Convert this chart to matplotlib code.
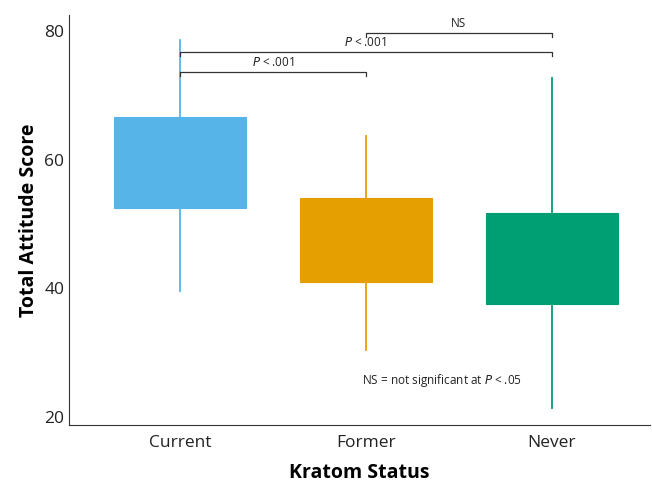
import matplotlib.pyplot as plt

plt.rcParams['font.family'] = ['Open Sans', 'DejaVu Sans']

groups = ['Current', 'Former', 'Never']
q1 = [52.5, 41.0, 37.5]
q3 = [66.6, 54.0, 51.7]
whislo = [39.6, 30.5, 21.4]
whishi = [78.6, 63.7, 72.7]
colors = ['#56B4E9', '#E69F00', '#009E73']

# brackets: (from group, to group, height, label)
brackets = [(0, 1, 73.6, '$\\it{P}$ < .001'),
            (0, 2, 76.7, '$\\it{P}$ < .001'),
            (1, 2, 79.7, 'NS')]

fig, ax = plt.subplots(figsize=(6.52, 4.82), dpi=100)
fig.subplots_adjust(left=0.106, right=0.997, bottom=0.118, top=0.969)

stats = []
for i, g in enumerate(groups):
    stats.append({'label': g, 'q1': q1[i], 'q3': q3[i], 'med': q1[i],
                  'whislo': whislo[i], 'whishi': whishi[i], 'fliers': []})

pos = [1, 2, 3]
bp = ax.bxp(stats, positions=pos, widths=0.71, patch_artist=True,
            showcaps=False, showfliers=False, zorder=2)
for i, patch in enumerate(bp['boxes']):
    patch.set_facecolor(colors[i])
    patch.set_edgecolor(colors[i])
    patch.set_linewidth(0.8)
for med in bp['medians']:
    med.set_visible(False)
for i in range(3):
    for w in bp['whiskers'][2 * i:2 * i + 2]:
        w.set_color(colors[i])
        w.set_linewidth(1.3)
        w.set_zorder(1)

for a, b, h, lab in brackets:
    ax.plot([pos[a], pos[a], pos[b], pos[b]], [h - 0.6, h, h, h - 0.6],
            color='#333333', lw=0.9, zorder=3)
    ax.text((pos[a] + pos[b]) / 2, h + 0.5, lab, ha='center', va='bottom',
            fontsize=8.5, color='#222222')

ax.text(1.98, 25.7, 'NS = not significant at $\\it{P}$ < .05', ha='left',
        va='center', fontsize=8.5, color='#222222')

ax.set_xlim(0.403, 3.53)
ax.set_ylim(18.75, 82.5)
ax.set_yticks([20, 40, 60, 80])
ax.set_xticks(pos)
ax.set_xticklabels(groups)
ax.tick_params(length=0, labelsize=12.5, colors='#222222')
ax.tick_params(axis='x', pad=7)
ax.spines['top'].set_visible(False)
ax.spines['right'].set_visible(False)
ax.spines['left'].set_color('#333333')
ax.spines['bottom'].set_color('#333333')
ax.set_xlabel('Kratom Status', fontsize=14, fontweight='bold', labelpad=9)
ax.set_ylabel('Total Attitude Score', fontsize=14, fontweight='bold', labelpad=4)

fig.savefig('out.png', dpi=100)
